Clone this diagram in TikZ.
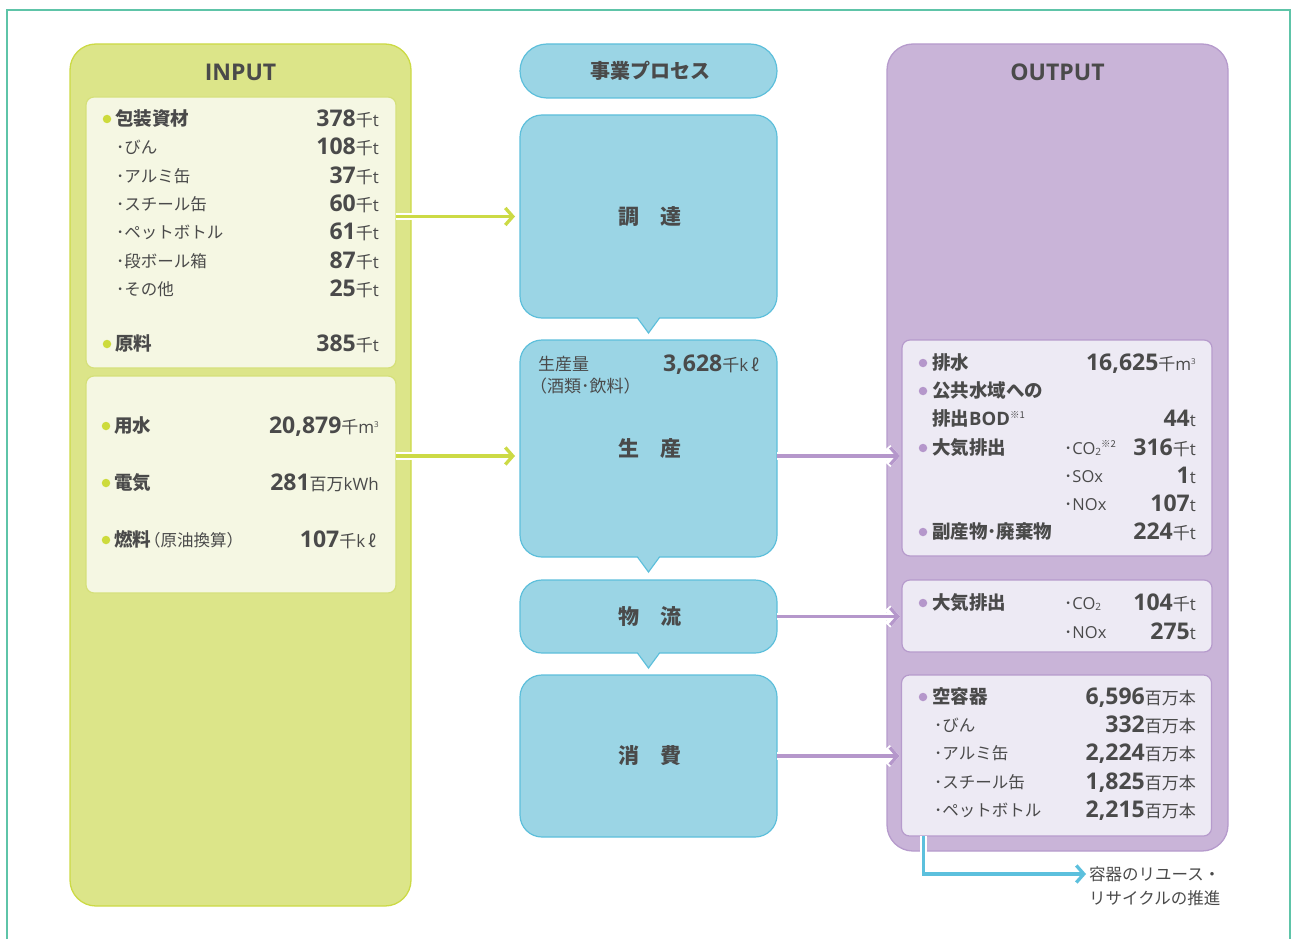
\documentclass[tikz,border=0pt]{standalone}
\usepackage{fontspec}
\setmainfont{Noto Sans CJK JP}
\newfontfamily\numf{Open Sans}
\usetikzlibrary{arrows.meta}
\definecolor{txt}{HTML}{4A4A4A}
\definecolor{framec}{HTML}{5EC4A8}
\definecolor{gfill}{HTML}{DCE589}
\definecolor{gline}{HTML}{CCDA45}
\definecolor{ginf}{HTML}{F5F7E3}
\definecolor{ginl}{HTML}{D5E07A}
\definecolor{gdotc}{HTML}{CDDB3C}
\definecolor{bfill}{HTML}{9BD5E5}
\definecolor{bline}{HTML}{5DBFDB}
\definecolor{pfill}{HTML}{C9B4D8}
\definecolor{pline}{HTML}{B69BCC}
\definecolor{pinf}{HTML}{EDEAF4}
\definecolor{parr}{HTML}{B597CB}
\definecolor{barr}{HTML}{5CC0DD}
\newcommand{\vnum}[2]{{\numf\fontsize{23}{26}\selectfont\bfseries #1}{\fontsize{17}{19}\selectfont\mdseries #2}}
\newcommand{\lat}[1]{{\numf #1}}
\newcommand{\supx}[1]{\raisebox{5.5pt}{\numf\fontsize{8}{9}\selectfont #1}}
\newcommand{\subx}[1]{\raisebox{-1pt}{\numf\fontsize{10}{11}\selectfont #1}}
\newcommand{\notex}[1]{\raisebox{7pt}{\fontsize{9.5}{10}\selectfont\mdseries #1}}
\tikzset{
  gbig/.style={fill=gfill, draw=gline, line width=1.3pt, rounded corners=26pt, inner sep=0pt, outer sep=0pt},
  ginbox/.style={fill=ginf, draw=ginl, line width=1.2pt, rounded corners=8pt, inner sep=0pt, outer sep=0pt, minimum width=310pt},
  pbig/.style={fill=pfill, draw=pline, line width=1.3pt, rounded corners=26pt, inner sep=0pt, outer sep=0pt},
  pinbox/.style={fill=pinf, draw=pline, line width=1.2pt, rounded corners=8pt, inner sep=0pt, outer sep=0pt, minimum width=310pt},
  bproc/.style={fill=bfill, draw=bline, line width=1.2pt, rounded corners=22pt, inner sep=0pt, outer sep=0pt, minimum width=257pt, text=txt, font={\fontsize{21}{24}\selectfont\bfseries}},
  ptr/.style={fill=bfill},
  ptrline/.style={draw=bline, line width=1.2pt},
  gdot/.style={circle, fill=gdotc, inner sep=0pt, minimum size=8.5pt},
  pdot/.style={circle, fill=parr, inner sep=0pt, minimum size=8.5pt},
  hl/.style={anchor=base west, inner sep=0pt, text=txt, font={\fontsize{18.5}{22}\selectfont\bfseries}},
  sl/.style={anchor=base west, inner sep=0pt, text=txt, font={\fontsize{16.5}{20}\selectfont}},
  vl/.style={anchor=base east, inner sep=0pt, text=txt},
  ttl/.style={inner sep=0pt, text=txt, font={\numf\fontsize{23}{28}\selectfont\bfseries}},
  tipg/.style={-{Straight Barb[length=7.5pt,width=17pt]}},
  garrow/.style={draw=gline, line width=3.3pt, tipg, preaction={draw=white, line width=7.5pt, tipg}},
  parrow/.style={draw=parr, line width=3.3pt, tipg, preaction={draw=white, line width=7.5pt, tipg}},
  barrow/.style={draw=barr, line width=3.3pt, tipg, preaction={draw=white, line width=7.5pt, tipg}},
}
\begin{document}
\begin{tikzpicture}[x=1pt, y=-1pt]
\useasboundingbox (0,0) rectangle (1292,939);
\draw[framec, line width=2.5pt] (7,939) -- (7,10) -- (1290,10) -- (1290,939);

% INPUT column
\node[gbig, minimum width=341pt, minimum height=862pt] (inbig) at (240.5,475) {};
\node[ttl] (intitle) at (240.5,72) {INPUT};
\node[ginbox, minimum height=271pt] (in1) at (241,232.5) {};
\node[ginbox, minimum height=217pt] (in2) at (241,484.5) {};

% process column
\node[bproc, rounded corners=27pt, minimum height=54pt, font={\fontsize{20}{24}\selectfont\bfseries}] (head) at (648.5,71) {\hspace{3pt}事業プロセス};
\node[bproc, minimum height=203pt] (cho) at (648.5,216.5) {\hspace{3pt}調　達};
\node[bproc, minimum height=217pt] (sei) at (648.5,448.5) {\hspace{3pt}生　産};
\node[bproc, minimum height=73pt] (butsu) at (648.5,616.5) {\hspace{3pt}物　流};
\node[bproc, minimum height=162pt] (shohi) at (648.5,756) {\hspace{3pt}消　費};
\foreach \b in {cho,sei,butsu}{
  \fill[ptr] ([xshift=-11pt,yshift=1.2pt]\b.south) -- ([yshift=-15pt]\b.south) -- ([xshift=11pt,yshift=1.2pt]\b.south) -- cycle;
  \draw[ptrline] ([xshift=-11pt]\b.south) -- ([yshift=-15pt]\b.south) -- ([xshift=11pt]\b.south);
}

% OUTPUT column
\node[pbig, minimum width=341pt, minimum height=807pt] (outbig) at (1057.5,447.5) {};
\node[ttl] (outtitle) at (1057.5,72) {OUTPUT};
\node[pinbox, minimum height=216pt] (out1) at (1057,448) {};
\node[pinbox, minimum height=72pt] (out2) at (1057,616) {};
\node[pinbox, minimum height=161pt] (out3) at (1056.5,755.5) {};

% arrows
\coordinate (g2) at ([yshift=-7.5pt]sei.west);
\coordinate (p1) at ([yshift=-7.5pt]sei.east);
\draw[garrow, shorten >=5pt] (in1.east |- cho.west) -- (cho.west);
\draw[garrow, shorten >=5pt] (in2.east |- g2) -- (g2);
\draw[parrow, shorten >=2pt] (p1) -- (out1.west |- p1);
\draw[parrow, shorten >=2pt] (butsu.east) -- (out2.west |- butsu.east);
\draw[parrow, shorten >=2pt] (shohi.east) -- (out3.west |- shohi.east);
\coordinate (bs) at ([xshift=22pt]out3.south west);
\coordinate (be) at (1086,874);
\draw[barrow] (bs) |- (be);
\node[anchor=north west, inner sep=0pt, align=left, text=txt, font={\fontsize{16.5}{24}\selectfont}] (reuse) at (1089,866) {容器のリユース・\\リサイクルの推進};

% INPUT box 1
\node[gdot] (ib1) at (107,119) {};
\node[hl] (il1) at (115,125.5) {包装資材};
\node[vl] (iv1) at (379,126) {\vnum{378}{千\lat{t}}};
\node[sl] (il2) at (116,153.5) {･びん};
\node[vl] (iv2) at (379,154) {\vnum{108}{千\lat{t}}};
\node[sl] (il3) at (116,182.5) {･アルミ缶};
\node[vl] (iv3) at (379,183) {\vnum{37}{千\lat{t}}};
\node[sl] (il4) at (116,210.5) {･スチール缶};
\node[vl] (iv4) at (379,211) {\vnum{60}{千\lat{t}}};
\node[sl] (il5) at (116,238.5) {･ペットボトル};
\node[vl] (iv5) at (379,239) {\vnum{61}{千\lat{t}}};
\node[sl] (il6) at (116,267.5) {･段ボール箱};
\node[vl] (iv6) at (379,268) {\vnum{87}{千\lat{t}}};
\node[sl] (il7) at (116,295.5) {･その他};
\node[vl] (iv7) at (379,296) {\vnum{25}{千\lat{t}}};
\node[gdot] (ib8) at (107,344) {};
\node[hl] (il8) at (115,350.5) {原料};
\node[vl] (iv8) at (379,351) {\vnum{385}{千\lat{t}}};

% INPUT box 2
\node[gdot] (jb1) at (106,426) {};
\node[hl] (jl1) at (114,432.5) {用水};
\node[vl] (jv1) at (379,433) {\vnum{20,879}{千\lat{m}\supx{3}}};
\node[gdot] (jb2) at (106,483) {};
\node[hl] (jl2) at (114,489.5) {電気};
\node[vl] (jv2) at (379,490) {\vnum{281}{百万\lat{kWh}}};
\node[gdot] (jb3) at (106,540) {};
\node[hl] (jl3) at (114,546.5) {燃料{\mdseries\fontsize{16.5}{20}\selectfont\hspace{-7pt}（原油換算）}};
\node[vl] (jv3) at (376,547) {\vnum{107}{千\lat{k}\,ℓ}};

% production
\node[sl, font={\fontsize{17}{20}\selectfont}] (sl1) at (538,370.5) {生産量};
\node[sl, font={\fontsize{17}{20}\selectfont}] (sl2) at (530,392.5) {（酒類･飲料）};
\node[vl] (sv1) at (759,371) {\vnum{3,628}{千\lat{k}\,ℓ}};

% OUTPUT box 1
\node[pdot] (ob1) at (923,363) {};
\node[hl] (ol1) at (932,369.5) {排水};
\node[vl] (ov1) at (1196,370) {\vnum{16,625}{千\lat{m}\supx{3}}};
\node[pdot] (ob2) at (923,391) {};
\node[hl] (ol2) at (932,397.5) {公共水域への};
\node[hl] (ol3) at (932,425.5) {排出\lat{BOD}\notex{※1}};
\node[vl] (ov3) at (1196,426) {\vnum{44}{\lat{t}}};
\node[pdot] (ob4) at (923,448) {};
\node[hl] (ol4) at (932,454.5) {大気排出};
\node[sl] (oc4) at (1064,454.5) {･\lat{CO}\subx{2}\notex{※2}};
\node[vl] (ov4) at (1196,455) {\vnum{316}{千\lat{t}}};
\node[sl] (oc5) at (1064,482.5) {･\lat{SOx}};
\node[vl] (ov5) at (1196,483) {\vnum{1}{\lat{t}}};
\node[sl] (oc6) at (1064,510.5) {･\lat{NOx}};
\node[vl] (ov6) at (1196,511) {\vnum{107}{\lat{t}}};
\node[pdot] (ob7) at (923,532) {};
\node[hl] (ol7) at (932,538.5) {副産物･廃棄物};
\node[vl] (ov7) at (1196,539) {\vnum{224}{千\lat{t}}};

% OUTPUT box 2
\node[pdot] (pb1) at (923,603) {};
\node[hl] (pl1) at (932,609.5) {大気排出};
\node[sl] (pc1) at (1064,609.5) {･\lat{CO}\subx{2}};
\node[vl] (pv1) at (1196,610) {\vnum{104}{千\lat{t}}};
\node[sl] (pc2) at (1064,638.5) {･\lat{NOx}};
\node[vl] (pv2) at (1196,639) {\vnum{275}{\lat{t}}};

% OUTPUT box 3
\node[pdot] (qb1) at (923,697) {};
\node[hl] (ql1) at (932,703.5) {空容器};
\node[vl] (qv1) at (1196,704) {\vnum{6,596}{百万本}};
\node[sl] (ql2) at (934,731.5) {･びん};
\node[vl] (qv2) at (1196,732) {\vnum{332}{百万本}};
\node[sl] (ql3) at (934,759.5) {･アルミ缶};
\node[vl] (qv3) at (1196,760) {\vnum{2,224}{百万本}};
\node[sl] (ql4) at (934,788.5) {･スチール缶};
\node[vl] (qv4) at (1196,789) {\vnum{1,825}{百万本}};
\node[sl] (ql5) at (934,816.5) {･ペットボトル};
\node[vl] (qv5) at (1196,817) {\vnum{2,215}{百万本}};
\end{tikzpicture}
\end{document}
